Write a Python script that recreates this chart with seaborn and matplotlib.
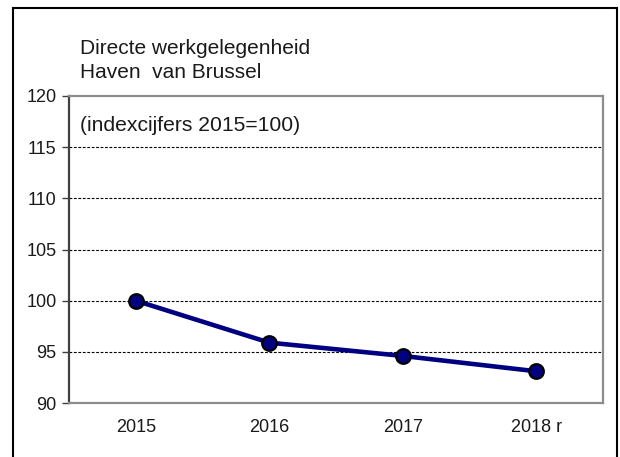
import matplotlib
matplotlib.use("Agg")
import matplotlib.pyplot as plt
import seaborn as sns
import pandas as pd
from matplotlib.patches import Rectangle

years = ["2015", "2016", "2017", "2018 r"]
index_values = [100.0, 95.9, 94.6, 93.1]
y_ticks = [90, 95, 100, 105, 110, 115, 120]

df = pd.DataFrame({"jaar": years, "index": index_values})

sns.set_style("white")
plt.rcParams['font.family'] = ['Liberation Sans', 'DejaVu Sans']

fig = plt.figure(figsize=(6.2, 4.57), dpi=100)
ax = fig.add_axes([69/620, 1-403/457, (603-69)/620, (403-96)/457])

sns.lineplot(data=df, x="jaar", y="index", ax=ax, color="#000080", linewidth=3.3,
             marker="o", markersize=10.5, markerfacecolor="#000080",
             markeredgecolor="black", markeredgewidth=1.6, zorder=5)

ax.set_xlim(-0.5, 3.5)
ax.set_ylim(90, 120)
ax.set_yticks(y_ticks)
ax.set_xlabel("")
ax.set_ylabel("")
for t in y_ticks[1:-1]:
    ax.axhline(t, color="black", linestyle=(0, (2.5, 1.5)), linewidth=0.8, zorder=1)

ax.tick_params(axis="y", which="both", left=True, length=5, width=1, color="#404040",
               labelsize=13, labelcolor="#1a1a1a", pad=4, direction="out")
ax.tick_params(axis="x", bottom=False, labelsize=13, labelcolor="#1a1a1a", pad=8)

for side in ["top", "right", "bottom"]:
    ax.spines[side].set_color("#8c8c8c")
    ax.spines[side].set_linewidth(1.6)
ax.spines["left"].set_color("#404040")
ax.spines["left"].set_linewidth(1.6)

ax.text(11/534, 0.905, "(indexcijfers 2015=100)", transform=ax.transAxes,
        fontsize=15.2, color="#1a1a1a", va="center", ha="left")

fig.text(80/620, 1-49/457, "Directe werkgelegenheid", fontsize=15,
         color="#1a1a1a", va="center", ha="left")
fig.text(80/620, 1-73/457, "Haven  van Brussel", fontsize=15,
         color="#1a1a1a", va="center", ha="left")

frame = Rectangle((13/620, -0.1), (617-13)/620, 1-8/457+0.1, transform=fig.transFigure,
                  fill=False, edgecolor="black", linewidth=1.5, clip_on=False)
fig.patches.append(frame)

fig.savefig("out.png", dpi=100)
